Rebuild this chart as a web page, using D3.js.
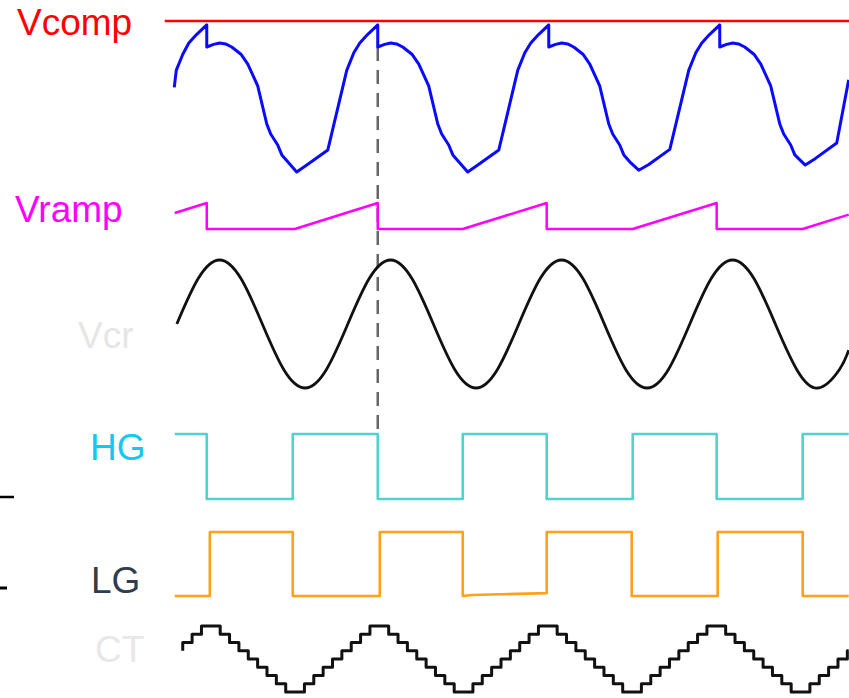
<!DOCTYPE html>
<html>
<head>
<meta charset="utf-8">
<script src="https://cdn.jsdelivr.net/npm/d3@7/dist/d3.min.js"></script>
<style>
  html, body { margin: 0; padding: 0; background: #ffffff; }
  svg { display: block; }
  text { font-family: "Liberation Sans", Arial, sans-serif; }
</style>
</head>
<body>
<svg id="chart" width="849" height="698"></svg>
<script>
// ---------- data (time in switching periods, t = 0 at first Vcomp peak) ----------
const labels = ["Vcomp", "Vramp", "Vcr", "HG", "LG", "CT"];

// Vcomp reference level (red) and compensated error signal (blue)
const vcompRefT = [-0.246, 3.76];
const vcompRefV = [1, 1];
const vcT = [-0.190, -0.178, -0.140, -0.105, -0.060, 0, 0, 0.040, 0.076, 0.110, 0.146, 0.200, 0.240, 0.298, 0.351, 0.374, 0.415, 0.439, 0.480, 0.526, 0.585, 0.708,
             0.819, 0.860, 0.895, 0.940, 1, 1, 1.040, 1.076, 1.110, 1.146, 1.200, 1.240, 1.298, 1.351, 1.374, 1.415, 1.439, 1.480, 1.526, 1.585, 1.708,
             1.819, 1.860, 1.895, 1.940, 2, 2, 2.040, 2.076, 2.110, 2.146, 2.200, 2.240, 2.298, 2.351, 2.374, 2.415, 2.439, 2.480, 2.526, 2.585, 2.708,
             2.819, 2.860, 2.895, 2.940, 3, 3, 3.040, 3.076, 3.110, 3.146, 3.200, 3.240, 3.298, 3.351, 3.374, 3.415, 3.439, 3.500, 3.560, 3.684, 3.754];
const vcV = [0.56, 0.675, 0.780, 0.854, 0.910, 0.974, 0.828, 0.845, 0.854, 0.848, 0.828, 0.780, 0.715, 0.570, 0.318, 0.252, 0.179, 0.113, 0.060, 0, 0.046, 0.146,
             0.675, 0.790, 0.854, 0.910, 0.974, 0.828, 0.845, 0.854, 0.848, 0.828, 0.780, 0.715, 0.570, 0.318, 0.252, 0.179, 0.113, 0.060, 0, 0.046, 0.146,
             0.675, 0.790, 0.854, 0.910, 0.974, 0.828, 0.845, 0.854, 0.848, 0.828, 0.780, 0.715, 0.570, 0.318, 0.252, 0.179, 0.113, 0.060, 0.012, 0.050, 0.150,
             0.675, 0.790, 0.854, 0.910, 0.974, 0.828, 0.845, 0.854, 0.848, 0.828, 0.780, 0.715, 0.570, 0.318, 0.252, 0.179, 0.113, 0.046, 0.090, 0.192, 0.61];

// Vramp sawtooth
const rampT = [-0.187, 0, 0, 0.515, 1, 1, 1.497, 1.988, 1.988, 2.491, 2.982, 2.982, 3.485, 3.754];
const rampV = [0.615, 1, 0, 0, 1, 0, 0, 1, 0, 0, 1, 0, 0, 0.555];

// Vcr resonant capacitor voltage (sampled every eighth of a period)
const crT = [-0.175, -0.050, 0.075, 0.200, 0.325, 0.450, 0.575, 0.700,
             0.825, 0.950, 1.075, 1.200, 1.325, 1.450, 1.575, 1.700,
             1.825, 1.950, 2.075, 2.200, 2.325, 2.450, 2.575, 2.700,
             2.825, 2.950, 3.075, 3.200, 3.325, 3.450, 3.575, 3.700, 3.754];
const crV = [0, 0.71, 1, 0.71, 0, -0.71, -1, -0.71,
             0, 0.71, 1, 0.71, 0, -0.71, -1, -0.71,
             0, 0.71, 1, 0.71, 0, -0.71, -1, -0.71,
             0, 0.71, 1, 0.71, 0, -0.71, -1, -0.71, -0.41];

// HG gate
const hgT = [-0.187, 0, 0, 0.503, 0.503, 1, 1, 1.497, 1.497, 1.988, 1.988, 2.491, 2.491, 2.982, 2.982, 3.485, 3.485, 3.754];
const hgV = [1, 1, 0, 0, 1, 1, 0, 0, 1, 1, 0, 0, 1, 1, 0, 0, 1, 1];

// LG gate
const lgT = [-0.187, 0.018, 0.018, 0.503, 0.503, 1.012, 1.012, 1.497, 1.497, 1.55, 1.988, 1.988, 2.485, 2.485, 2.988, 2.988, 3.485, 3.485, 3.754];
const lgV = [0, 0, 1, 1, 0, 0, 1, 1, 0, 0.015, 0.045, 1, 1, 0, 0, 1, 1, 0, 0];

// CT staircase counter (levels 0..8, one level per clock step)
const ctStartT = -0.1404;
const ctStepT = 0.05474;
const ctStartLevel = 5;
const ctLevels = [6, 7, 8, 8, 7, 6, 5, 4, 3, 2, 1, 0, 0, 1, 2, 3, 4, 5,
                  6, 7, 8, 8, 7, 6, 5, 4, 3, 2, 1, 0, 0, 1, 2, 3, 4, 5,
                  6, 7, 8, 8, 7, 6, 5, 4, 3, 2, 1, 0, 0, 1, 2, 3, 4, 5,
                  6, 7, 8, 8, 7, 6, 5, 4, 3, 2, 1, 0, 0, 1, 2, 3, 4, 5];
const ctEndT = 3.754;

// marker: dashed line at the second switching instant
const markerT = 1;

// ---------- scales ----------
const svg = d3.select("#chart");
const x = d3.scaleLinear().domain([-0.25, 3.75]).range([164, 848]);

const yVc   = d3.scaleLinear().domain([0, 1]).range([172, 21]);
const yRamp = d3.scaleLinear().domain([0, 1]).range([229, 203]);
const yCr   = d3.scaleLinear().domain([-1, 1]).range([388, 260]);
const yHg   = d3.scaleLinear().domain([0, 1]).range([499, 434]);
const yLg   = d3.scaleLinear().domain([0, 1]).range([596, 532]);
const yCt   = d3.scaleLinear().domain([0, 8]).range([692, 626]);

const zip = (ts, vs) => ts.map((t, i) => ({ t, v: vs[i] }));

function trace(data, yScale, color, width, curve) {
  const line = d3.line()
    .x(d => x(d.t))
    .y(d => yScale(d.v))
    .curve(curve || d3.curveLinear);
  svg.append("path")
    .datum(data)
    .attr("d", line)
    .attr("fill", "none")
    .attr("stroke", color)
    .attr("stroke-width", width)
    .attr("stroke-linejoin", "round")
    .attr("stroke-linecap", "butt");
}

// dashed marker (drawn first, under the traces)
svg.append("line")
  .attr("x1", x(markerT)).attr("x2", x(markerT))
  .attr("y1", yVc(0.828)).attr("y2", yHg(1) - 5)
  .attr("stroke", "#666666")
  .attr("stroke-width", 2.5)
  .attr("stroke-dasharray", "14,9");

trace(zip(vcompRefT, vcompRefV), yVc, "#ff0000", 2.5);
trace(zip(vcT, vcV), yVc, "#0a0aff", 3);
trace(zip(rampT, rampV), yRamp, "#ff00ff", 2.5);
trace(zip(crT, crV), yCr, "#111111", 2.8, d3.curveNatural);
trace(zip(hgT, hgV), yHg, "#4fd3cf", 2.6);
trace(zip(lgT, lgV), yLg, "#ffa11a", 2.6);

const ctData = [{ t: ctStartT, v: ctStartLevel }]
  .concat(ctLevels.map((v, i) => ({ t: ctStartT + i * ctStepT, v })))
  .concat([{ t: ctEndT, v: ctLevels[ctLevels.length - 1] }]);
trace(ctData, yCt, "#111111", 3, d3.curveStepAfter);

// ---------- labels ----------
const labelStyle = [
  { x: 17, y: 35,  color: "#ff0000" },
  { x: 15, y: 222, color: "#ff00ff" },
  { x: 78, y: 348, color: "#e6e6e6" },
  { x: 90, y: 460, color: "#14c8f0" },
  { x: 91, y: 593, color: "#2f3d4f" },
  { x: 95, y: 662, color: "#e8e8e8" }
];
labels.forEach((name, i) => {
  svg.append("text")
    .attr("x", labelStyle[i].x)
    .attr("y", labelStyle[i].y)
    .attr("fill", labelStyle[i].color)
    .attr("font-size", 37)
    .text(name);
});

// small black marks at the left edge
svg.append("line").attr("x1", 0).attr("x2", 14).attr("y1", 497).attr("y2", 497)
  .attr("stroke", "#000").attr("stroke-width", 2.5);
svg.append("line").attr("x1", 0).attr("x2", 7).attr("y1", 588).attr("y2", 588)
  .attr("stroke", "#000").attr("stroke-width", 3);
</script>
</body>
</html>
